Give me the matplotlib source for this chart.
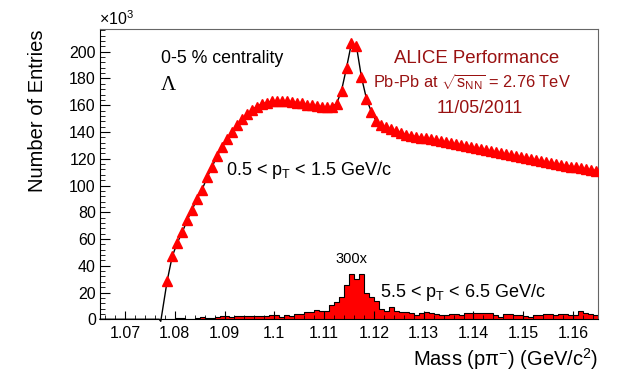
import numpy as np
import matplotlib
matplotlib.use("Agg")
import matplotlib.pyplot as plt
from matplotlib.ticker import MultipleLocator

plt.rcParams['font.family'] = ['Liberation Sans', 'DejaVu Sans']
plt.rcParams['mathtext.fontset'] = 'custom'
plt.rcParams['mathtext.rm'] = 'Liberation Sans'
plt.rcParams['mathtext.it'] = 'Liberation Sans:italic'
plt.rcParams['mathtext.bf'] = 'Liberation Sans:bold'

# 0.5 < pT < 1.5 GeV/c, entries in units of 10^3, bin centres every 1 MeV
low_mass = np.round(1.0785 + 0.001 * np.arange(87), 4)
low_vals = [29, 47, 57, 65, 74, 82, 90, 97, 106, 114,
            122, 128.5, 134.5, 140, 145, 149.5, 153.5, 156.5, 159, 161,
            162, 163, 163.5, 163.3, 163, 162.5, 162, 161.5, 160.5, 160,
            159.5, 159, 158.5, 159, 161, 171, 188, 206.5, 204, 181,
            165, 155, 148, 145, 143.5, 142, 140.5, 139.3, 138, 137.2,
            136.5, 135.8, 135.2, 134.5, 133.8, 133.0, 132.2, 131.5, 130.8, 130.2,
            129.5, 128.7, 128.0, 127.2, 126.4, 125.6, 124.8, 124.0, 123.3, 122.5,
            121.8, 121.0, 120.3, 119.6, 118.9, 118.2, 117.5, 116.8, 116.2, 115.5,
            114.8, 114.2, 113.6, 113.0, 112.4, 111.8, 111.2]

# fit curve: zero below threshold, then follows the points
fit_mass = np.concatenate([[1.0650, 1.0769, 1.0772], low_mass])
fit_vals = [0, 0, -1.5] + low_vals

# 5.5 < pT < 6.5 GeV/c, scaled x300, 100 bins from 1.065 to 1.165
high_edges = np.linspace(1.065, 1.165, 101)
high_vals = [0] * 14 + [
    0.5, 0.8, 0.8, 0.3, 0.5, 1.2, 1.5, 1.2, 1.0, 1.8,
    2.5, 2.2, 1.8, 2.5, 2.2, 2.8, 2.5, 2.8, 2.2, 2.5,
    3.5, 3.5, 2.0, 3.0, 2.5, 3.7, 3.7, 5.5, 5.5, 6.7,
    6.0, 6.0, 10.5, 13, 17, 25.5, 34, 30, 34, 19.7,
    17, 14, 7.5,
    6.5, 9.5, 6.2, 5.7, 5.7, 5.0, 3.2, 4.5, 5.2, 4.5,
    4.0, 3.5, 3.5, 4.0, 3.8, 3.2, 4.5, 4.5, 5.0, 5.0,
    4.5, 4.5, 3.2, 2.0, 4.0, 4.0, 3.2, 3.2, 2.5, 2.0,
    3.5, 3.5, 4.0, 4.0, 3.5, 4.0, 4.0, 3.5, 3.0, 6.5,
    5.0, 4.0, 3.2]

x_ticks = [1.07, 1.08, 1.09, 1.10, 1.11, 1.12, 1.13, 1.14, 1.15, 1.16]
x_tick_labels = ['1.07', '1.08', '1.09', '1.1', '1.11', '1.12', '1.13', '1.14', '1.15', '1.16']
y_ticks = [0, 20, 40, 60, 80, 100, 120, 140, 160, 180, 200]

W, H = 626, 373
fig = plt.figure(figsize=(W / 100, H / 100), dpi=100)
ax = fig.add_axes([100 / W, 1 - 319.3 / H, 498 / W, 290.3 / H])

ax.stairs(high_vals, high_edges, fill=True, color='red', zorder=1)
ax.stairs(high_vals, high_edges, color='black', lw=0.8, zorder=1.5)
ax.plot(fit_mass, fit_vals, color='black', lw=1, zorder=2, clip_on=False)
ax.plot(low_mass, low_vals, ls='none', marker='^', ms=6.5, color='red', mec='red', zorder=3)

ax.set_xlim(1.065, 1.165)
ax.set_ylim(0, 217)
ax.set_xticks(x_ticks)
ax.set_xticklabels(x_tick_labels)
ax.set_yticks(y_ticks)
ax.xaxis.set_minor_locator(MultipleLocator(0.002))
ax.yaxis.set_minor_locator(MultipleLocator(4))
ax.tick_params(axis='both', direction='in', labelsize=11.5, top=False, right=False, which='both')
ax.tick_params(axis='x', which='major', length=6, pad=5)
ax.tick_params(axis='x', which='minor', length=3)
ax.tick_params(axis='y', which='major', length=7.5, pad=3)
ax.tick_params(axis='y', which='minor', length=3.8)
for s in ['left', 'bottom']:
    ax.spines[s].set_color('black')
for s in ['top', 'right']:
    ax.spines[s].set_color('0.4')

def px(x, y):
    return x / W, 1 - y / H

fig.text(*px(99, 25), '×10$^{3}$', fontsize=11.5, ha='left', va='baseline')
fig.text(*px(38, 30), 'Number of Entries', fontsize=14.5, rotation=90, ha='center', va='top')
fig.text(*px(598, 366), 'Mass (pπ$^{-}$) (GeV/c$^{2}$)', fontsize=14.5, ha='right', va='baseline')

fig.text(*px(161, 63), '0-5 % centrality', fontsize=12.8, ha='left', va='baseline')
fig.text(*px(161, 90), 'Λ', fontsize=15, ha='left', va='baseline', family='Liberation Serif')

dark_red = '#991111'
fig.text(*px(477, 63), 'ALICE Performance', fontsize=13.4, color=dark_red, ha='center', va='baseline')
fig.text(*px(472, 87), r'Pb-Pb at $\sqrt{\mathrm{s}_{\mathrm{NN}}}$ = 2.76 TeV', fontsize=11.8,
         color=dark_red, ha='center', va='baseline')
fig.text(*px(480, 113), '11/05/2011', fontsize=12.8, color=dark_red, ha='center', va='baseline')

fig.text(*px(226, 175), r'0.5 < p$_{\mathrm{T}}$ < 1.5 GeV/c', fontsize=13, ha='left', va='baseline')
fig.text(*px(351, 263), '300x', fontsize=10.5, ha='center', va='baseline')
fig.text(*px(380, 297), r'5.5 < p$_{\mathrm{T}}$ < 6.5 GeV/c', fontsize=13, ha='left', va='baseline')

fig.savefig('out.png', dpi=100)
